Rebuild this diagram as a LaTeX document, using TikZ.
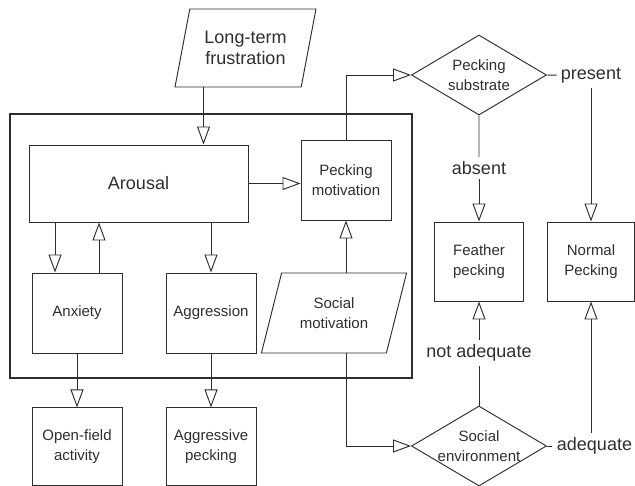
\documentclass[tikz,border=0pt]{standalone}
\usepackage{fontspec}
\setmainfont{Liberation Sans}
\usetikzlibrary{positioning,shapes.geometric,arrows.meta}
\definecolor{lineclr}{rgb}{0.18, 0.18, 0.18}
\tikzset{ %
  ,>={Triangle[open,length=18pt,width=13pt]}
  ,box/.style={draw, rectangle, inner sep=2pt, minimum width=90pt, minimum height=80pt, align=center, font=\fontsize{15}{20}\selectfont}
  ,para/.style 2 args={draw, trapezium, trapezium left angle=#1, trapezium right angle=#2, trapezium stretches=true, inner sep=0pt, align=center}
  ,cond/.style={draw, diamond, aspect=1.69, minimum width=135pt, minimum height=80pt, inner sep=0pt, align=center, font=\fontsize{15}{20}\selectfont}
  ,frame/.style={draw, rectangle, line width=1.5pt, minimum width=402pt, minimum height=264pt}
  ,lbl/.style={inner sep=4pt, font=\fontsize{18}{21}\selectfont}
}
\begin{document}
\begin{tikzpicture}[x=1pt,y=-1pt,color=lineclr,line width=0.95pt]
    \useasboundingbox (0,0) rectangle (635,486);
    \draw
    node[frame] (F) at (211,246) {}
    node[para={72}{108}, minimum width=141pt, minimum height=78pt, font=\fontsize{18}{21}\selectfont] (frust) at (245.5,48) {Long-term\\frustration}
    node[box, minimum width=219pt, minimum height=77pt, font=\fontsize{18}{21}\selectfont] (arousal) at (138.5,183.5) {Arousal}
    node[box] (peck) at (346,180) {Pecking\\motivation}
    node[box] (anx) at (77,313) {Anxiety}
    node[box] (aggr) at (211,313) {Aggression}
    node[para={67}{113}, minimum width=146pt, minimum height=80pt, font=\fontsize{15}{20}\selectfont] (soc) at (334,313) {Social\\motivation}
    node[box, minimum height=78pt, below=54pt of anx] (open) {Open-field\\activity}
    node[box, minimum height=78pt, below=54pt of aggr] (aggpeck) {Aggressive\\pecking}
    node[cond] (sub) at (479,75) {Pecking\\substrate}
    node[cond] (env) at (479,446) {Social\\environment}
    node[box, minimum width=89pt, minimum height=79pt] (feather) at (479,261.5) {Feather\\pecking}
    node[box, minimum width=87pt, minimum height=79pt] (normal) at (591,261.5) {Normal\\Pecking}
    node[lbl] (present) at (591,76) {present}
    node[lbl] (absent) at (479,168) {absent}
    node[lbl] (notadq) at (479,353) {not adequate}
    node[lbl] (adq) at (594.5,446) {adequate};
    \coordinate (in) at ([xshift=65pt]arousal.north);
    \coordinate (a1) at ([xshift=-22pt]anx.north);
    \coordinate (a2) at ([xshift=22pt]anx.north);
    \draw [->] (frust.south -| in) -- (in);
    \draw [->] (arousal.east) -- (arousal.east -| peck.west);
    \draw [->] (a1 |- arousal.south) -- (a1);
    \draw [->] (a2) -- (a2 |- arousal.south);
    \draw [->] (aggr.north |- arousal.south) -- (aggr.north);
    \draw [->] (anx) edge (open) (aggr) edge (aggpeck);
    \draw [->] (peck.south |- soc.north) -- (peck.south);
    \draw [->] (peck.north) |- (sub.west);
    \draw [->] (peck.south |- soc.south) |- (env.west);
    \draw (sub.east) -- (present) (sub.south) -- (absent);
    \draw [->] (absent) edge (feather) (present) edge (normal);
    \draw (env.north) -- (notadq) (env.east) -- (adq);
    \draw [->] (notadq) edge (feather);
    \draw [->] (adq.north -| normal.south) -- (normal.south);
\end{tikzpicture}
\end{document}
